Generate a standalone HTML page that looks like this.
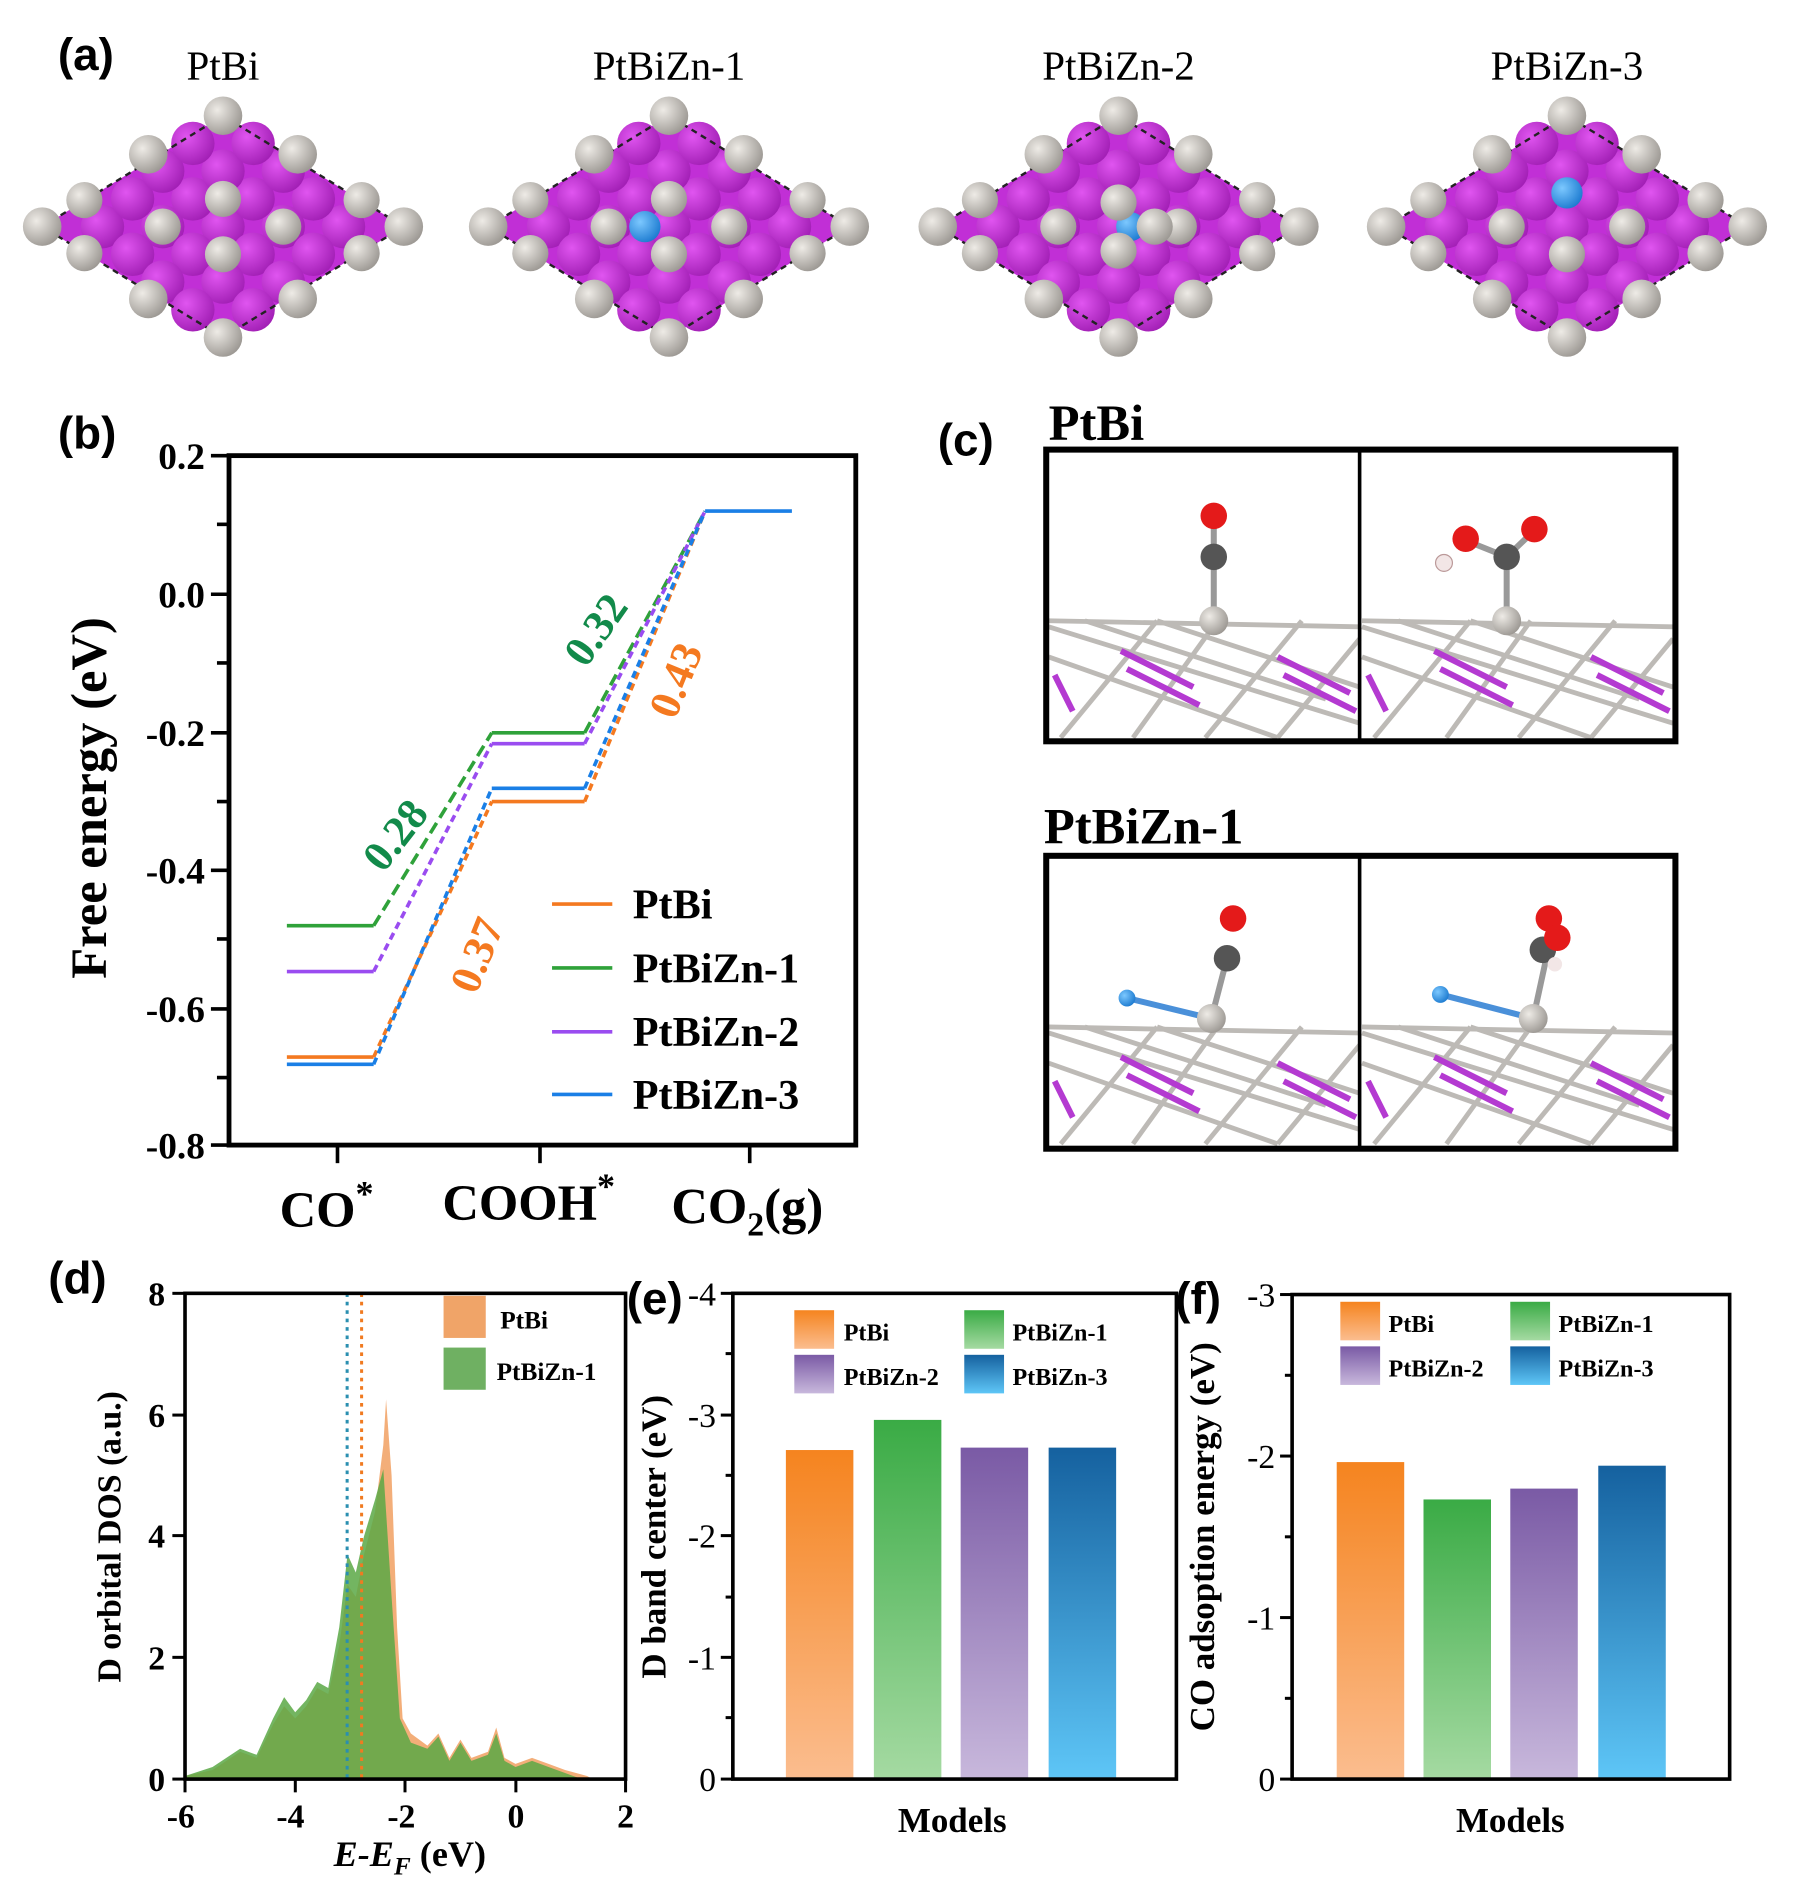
<!DOCTYPE html>
<html><head><meta charset="utf-8"><style>html,body{margin:0;padding:0;background:#fff}svg{display:block}</style></head>
<body>
<svg width="1808" height="1900" viewBox="0 0 1500 1576.3" xmlns="http://www.w3.org/2000/svg" font-family="Liberation Serif, serif">
<defs>
<linearGradient id="go" x1="0" y1="0" x2="0" y2="1"><stop offset="0" stop-color="#f5841f"/><stop offset="1" stop-color="#fbbd8f"/></linearGradient>
<linearGradient id="gg" x1="0" y1="0" x2="0" y2="1"><stop offset="0" stop-color="#3aab45"/><stop offset="1" stop-color="#a5daa2"/></linearGradient>
<linearGradient id="gp" x1="0" y1="0" x2="0" y2="1"><stop offset="0" stop-color="#7a5aa5"/><stop offset="1" stop-color="#c8b8dc"/></linearGradient>
<linearGradient id="gb" x1="0" y1="0" x2="0" y2="1"><stop offset="0" stop-color="#15619f"/><stop offset="1" stop-color="#5ec6f7"/></linearGradient>
<radialGradient id="sg" cx="0.35" cy="0.35" r="0.7"><stop offset="0" stop-color="#eeebe6"/><stop offset="1" stop-color="#9c9893"/></radialGradient>
<radialGradient id="sm" cx="0.35" cy="0.35" r="0.7"><stop offset="0" stop-color="#e055f0"/><stop offset="1" stop-color="#a21fb5"/></radialGradient>
<radialGradient id="sb" cx="0.35" cy="0.35" r="0.7"><stop offset="0" stop-color="#7cc8ff"/><stop offset="1" stop-color="#1d7bd0"/></radialGradient>
<g id="cell">
<polygon points="-150,0 0,-92 150,0 0,92" fill="#c12fd6"/>
<g fill="url(#sm)">
<circle cx="-100" cy="0" r="18"/><circle cx="-50" cy="0" r="18"/><circle cx="50" cy="0" r="18"/><circle cx="100" cy="0" r="18"/><circle cx="0" cy="0" r="18"/>
<circle cx="-75" cy="-23" r="18"/><circle cx="-25" cy="-23" r="18"/><circle cx="25" cy="-23" r="18"/><circle cx="75" cy="-23" r="18"/>
<circle cx="-75" cy="23" r="18"/><circle cx="-25" cy="23" r="18"/><circle cx="25" cy="23" r="18"/><circle cx="75" cy="23" r="18"/>
<circle cx="-50" cy="-46" r="18"/><circle cx="0" cy="-46" r="18"/><circle cx="50" cy="-46" r="18"/>
<circle cx="-50" cy="46" r="18"/><circle cx="0" cy="46" r="18"/><circle cx="50" cy="46" r="18"/>
<circle cx="-25" cy="-69" r="18"/><circle cx="25" cy="-69" r="18"/><circle cx="-25" cy="69" r="18"/><circle cx="25" cy="69" r="18"/>
</g>
<polygon points="-150,0 0,-92 150,0 0,92" fill="none" stroke="#222" stroke-width="2" stroke-dasharray="5,4"/>
<g fill="url(#sg)">
<circle cx="0" cy="-92" r="16"/><circle cx="0" cy="92" r="16"/><circle cx="-150" cy="0" r="16"/><circle cx="150" cy="0" r="16"/>
<circle cx="-62" cy="-60" r="16"/><circle cx="62" cy="-60" r="16"/><circle cx="-62" cy="60" r="16"/><circle cx="62" cy="60" r="16"/>
<circle cx="-115" cy="-22" r="15"/><circle cx="115" cy="-22" r="15"/><circle cx="-115" cy="22" r="15"/><circle cx="115" cy="22" r="15"/>
</g>
</g>
</defs>

<!-- panel a -->
<text x="48" y="58" font-family="Liberation Sans, sans-serif" font-weight="bold" font-size="38">(a)</text>
<g font-size="34" text-anchor="middle">
<text x="185" y="66">PtBi</text><text x="555" y="66">PtBiZn-1</text><text x="928" y="66">PtBiZn-2</text><text x="1300" y="66">PtBiZn-3</text>
</g>
<g transform="translate(185,188)"><use href="#cell"/><g fill="url(#sg)"><circle cx="0" cy="-23" r="15"/><circle cx="-50" cy="0" r="15"/><circle cx="50" cy="0" r="15"/><circle cx="0" cy="23" r="15"/></g></g>
<g transform="translate(555,188)"><use href="#cell"/><g fill="url(#sg)"><circle cx="0" cy="-23" r="15"/><circle cx="-50" cy="0" r="15"/><circle cx="50" cy="0" r="15"/><circle cx="0" cy="23" r="15"/></g><circle cx="-20" cy="0" r="13" fill="url(#sb)"/></g>
<g transform="translate(928,188)"><use href="#cell"/><g fill="url(#sg)"><circle cx="-50" cy="0" r="15"/><circle cx="50" cy="0" r="15"/></g><circle cx="10" cy="0" r="12" fill="url(#sb)"/><g fill="url(#sg)"><circle cx="0" cy="-20" r="15"/><circle cx="30" cy="0" r="15"/><circle cx="0" cy="20" r="15"/></g></g>
<g transform="translate(1300,188)"><use href="#cell"/><g fill="url(#sg)"><circle cx="-50" cy="0" r="15"/><circle cx="50" cy="0" r="15"/><circle cx="0" cy="23" r="15"/></g><circle cx="0" cy="-28" r="13" fill="url(#sb)"/></g>

<!-- panel b -->
<text x="48" y="372" font-family="Liberation Sans, sans-serif" font-weight="bold" font-size="38">(b)</text>
<rect x="190" y="378" width="520" height="572" fill="none" stroke="#000" stroke-width="4"/>
<g stroke="#000" stroke-width="3">
<line x1="190" y1="435" x2="180" y2="435"/><line x1="190" y1="550" x2="180" y2="550"/><line x1="190" y1="665" x2="180" y2="665"/><line x1="190" y1="779" x2="180" y2="779"/><line x1="190" y1="894" x2="180" y2="894"/>
<line x1="190" y1="378" x2="175" y2="378"/><line x1="190" y1="493" x2="175" y2="493"/><line x1="190" y1="608" x2="175" y2="608"/><line x1="190" y1="722" x2="175" y2="722"/><line x1="190" y1="837" x2="175" y2="837"/><line x1="190" y1="950" x2="175" y2="950"/>
<line x1="280" y1="950" x2="280" y2="965"/><line x1="448" y1="950" x2="448" y2="965"/><line x1="622" y1="950" x2="622" y2="965"/>
</g>
<g font-weight="bold" font-size="31" text-anchor="end">
<text x="170" y="389">0.2</text><text x="170" y="504">0.0</text><text x="170" y="619">-0.2</text><text x="170" y="733">-0.4</text><text x="170" y="848">-0.6</text><text x="170" y="961">-0.8</text>
</g>
<text transform="translate(88,662) rotate(-90)" text-anchor="middle" font-weight="bold" font-size="42">Free energy (eV)</text>
<g font-weight="bold" font-size="42">
<text x="232" y="1018">CO<tspan font-size="30" dy="-18">*</tspan></text>
<text x="367" y="1012">COOH<tspan font-size="30" dy="-18">*</tspan></text>
<text x="557" y="1015">CO<tspan font-size="28" dy="10">2</tspan><tspan dy="-10">(g)</tspan></text>
</g>
<g stroke-width="3" fill="none">
<g stroke="#f47920"><line x1="238" y1="877" x2="310" y2="877"/><line x1="408" y1="665" x2="485" y2="665"/><line x1="310" y1="877" x2="408" y2="665" stroke-dasharray="6,4"/><line x1="485" y1="665" x2="585" y2="424" stroke-dasharray="6,4"/></g>
<g stroke="#2fa23a"><line x1="238" y1="768" x2="310" y2="768"/><line x1="408" y1="608" x2="485" y2="608"/><line x1="310" y1="768" x2="408" y2="608" stroke-dasharray="10,5"/><line x1="485" y1="608" x2="585" y2="424" stroke-dasharray="10,5"/></g>
<g stroke="#9a4cf0"><line x1="238" y1="806" x2="310" y2="806"/><line x1="408" y1="617" x2="485" y2="617"/><line x1="310" y1="806" x2="408" y2="617" stroke-dasharray="6,4"/><line x1="485" y1="617" x2="585" y2="424" stroke-dasharray="6,4"/></g>
<g stroke="#1a7fe6"><line x1="238" y1="883" x2="310" y2="883"/><line x1="408" y1="654" x2="485" y2="654"/><line x1="310" y1="883" x2="408" y2="654" stroke-dasharray="6,4"/><line x1="485" y1="654" x2="585" y2="424" stroke-dasharray="6,4"/><line x1="585" y1="424" x2="657" y2="424"/></g>
</g>
<g font-weight="bold" font-size="36">
<text transform="translate(318,725) rotate(-52)" fill="#128a4a">0.28</text>
<text transform="translate(395,826) rotate(-68)" fill="#f47920">0.37</text>
<text transform="translate(486,555) rotate(-55)" fill="#128a4a">0.32</text>
<text transform="translate(560,598) rotate(-68)" fill="#f47920">0.43</text>
</g>
<g stroke-width="3"><line x1="458" y1="750" x2="508" y2="750" stroke="#f47920"/><line x1="458" y1="803" x2="508" y2="803" stroke="#2fa23a"/><line x1="458" y1="856" x2="508" y2="856" stroke="#9a4cf0"/><line x1="458" y1="908" x2="508" y2="908" stroke="#1a7fe6"/></g>
<g font-weight="bold" font-size="35"><text x="525" y="762">PtBi</text><text x="525" y="815">PtBiZn-1</text><text x="525" y="868">PtBiZn-2</text><text x="525" y="920">PtBiZn-3</text></g>

<!-- panel c -->
<text x="778" y="378" font-family="Liberation Sans, sans-serif" font-weight="bold" font-size="38">(c)</text>
<text x="870" y="365" font-weight="bold" font-size="42">PtBi</text>
<text x="866" y="700" font-weight="bold" font-size="42">PtBiZn-1</text>
<g id="slab1">
<g stroke="#bdbab6" stroke-width="4">
<line x1="870" y1="520" x2="1128" y2="600"/><line x1="870" y1="545" x2="1060" y2="612"/><line x1="900" y1="515" x2="1100" y2="580"/><line x1="960" y1="515" x2="1128" y2="570"/>
<line x1="880" y1="612" x2="960" y2="515"/><line x1="940" y1="612" x2="1010" y2="515"/><line x1="1000" y1="612" x2="1080" y2="515"/><line x1="1060" y1="612" x2="1128" y2="530"/>
<line x1="870" y1="515" x2="1128" y2="520"/>
</g>
<g stroke="#b43ad1" stroke-width="5"><line x1="930" y1="540" x2="990" y2="570"/><line x1="935" y1="555" x2="995" y2="585"/><line x1="1060" y1="545" x2="1120" y2="575"/><line x1="1065" y1="560" x2="1125" y2="590"/><line x1="875" y1="560" x2="890" y2="590"/></g>
</g>
<use href="#slab1" x="260"/>
<use href="#slab1" y="337"/>
<use href="#slab1" x="260" y="337"/>
<rect x="868" y="373" width="522" height="242" fill="none" stroke="#000" stroke-width="5"/>
<line x1="1128" y1="373" x2="1128" y2="615" stroke="#000" stroke-width="3"/>
<rect x="868" y="710" width="522" height="243" fill="none" stroke="#000" stroke-width="5"/>
<line x1="1128" y1="710" x2="1128" y2="953" stroke="#000" stroke-width="3"/>
<g stroke="#999" stroke-width="5"><line x1="1007" y1="430" x2="1007" y2="515"/><line x1="1250" y1="465" x2="1250" y2="515"/><line x1="1215" y1="448" x2="1250" y2="462"/><line x1="1250" y1="462" x2="1273" y2="440"/><line x1="1018" y1="795" x2="1005" y2="845"/><line x1="1285" y1="785" x2="1272" y2="845"/><line x1="935" y1="828" x2="1005" y2="845" stroke="#4a90d9"/><line x1="1195" y1="825" x2="1272" y2="845" stroke="#4a90d9"/></g>
<circle cx="1007" cy="428" r="11" fill="#e41a1a"/><circle cx="1007" cy="462" r="11" fill="#555"/><circle cx="1007" cy="515" r="12" fill="url(#sg)"/>
<circle cx="1216" cy="447" r="11" fill="#e41a1a"/><circle cx="1273" cy="439" r="11" fill="#e41a1a"/><circle cx="1250" cy="462" r="11" fill="#555"/><circle cx="1198" cy="467" r="7" fill="#f2e6e6" stroke="#b99" /><circle cx="1250" cy="515" r="12" fill="url(#sg)"/>
<circle cx="1023" cy="762" r="11" fill="#e41a1a"/><circle cx="1018" cy="795" r="11" fill="#555"/><circle cx="1005" cy="845" r="12" fill="url(#sg)"/><circle cx="935" cy="828" r="7" fill="url(#sb)"/>
<circle cx="1285" cy="762" r="11" fill="#e41a1a"/><circle cx="1280" cy="788" r="11" fill="#555"/><circle cx="1292" cy="778" r="11" fill="#e41a1a"/><circle cx="1290" cy="800" r="6" fill="#f2e6e6"/><circle cx="1272" cy="845" r="12" fill="url(#sg)"/><circle cx="1195" cy="825" r="7" fill="url(#sb)"/>

<!-- panel d -->
<text x="40" y="1073" font-family="Liberation Sans, sans-serif" font-weight="bold" font-size="38">(d)</text>
<g transform="translate(153.5,1476) scale(45.7,-50.4)">
<polygon fill="#f2a56a" opacity="0.9" points="0,0 0,0.05 0.5,0.15 1,0.45 1.3,0.35 1.6,0.9 1.8,1.2 2,1.0 2.2,1.2 2.4,1.5 2.6,1.4 2.8,2.2 2.95,3.2 3.1,3.0 3.25,3.7 3.45,4.4 3.6,5.5 3.65,6.25 3.75,5.0 3.85,2.5 3.95,1.0 4.1,0.75 4.4,0.55 4.6,0.75 4.8,0.35 5,0.65 5.2,0.35 5.5,0.45 5.65,0.85 5.8,0.35 6,0.25 6.3,0.35 6.6,0.25 6.9,0.15 7.3,0.05 7.4,0"/>
<polygon fill="#5aa845" opacity="0.85" points="0,0 0,0.05 0.5,0.2 1,0.5 1.3,0.4 1.6,1.0 1.8,1.35 2,1.1 2.2,1.3 2.4,1.6 2.6,1.5 2.8,2.5 2.95,3.7 3.1,3.4 3.25,4.0 3.45,4.6 3.6,5.1 3.75,3.0 3.9,1.0 4.1,0.6 4.4,0.5 4.6,0.7 4.8,0.3 5,0.6 5.2,0.3 5.5,0.4 5.65,0.75 5.8,0.3 6,0.2 6.3,0.3 6.6,0.2 6.9,0.1 7.2,0"/>
</g>
<line x1="288" y1="1073" x2="288" y2="1476" stroke="#2a8fb0" stroke-width="2.5" stroke-dasharray="3,4"/>
<line x1="300" y1="1073" x2="300" y2="1476" stroke="#f07a20" stroke-width="2.5" stroke-dasharray="3,4"/>
<rect x="153.5" y="1073" width="365.5" height="403" fill="none" stroke="#000" stroke-width="3"/>
<g stroke="#000" stroke-width="2.5"><line x1="153" y1="1073" x2="143" y2="1073"/><line x1="153" y1="1174" x2="143" y2="1174"/><line x1="153" y1="1274" x2="143" y2="1274"/><line x1="153" y1="1375" x2="143" y2="1375"/><line x1="153" y1="1476" x2="143" y2="1476"/>
<line x1="153.5" y1="1476" x2="153.5" y2="1487"/><line x1="245" y1="1476" x2="245" y2="1487"/><line x1="336" y1="1476" x2="336" y2="1487"/><line x1="428" y1="1476" x2="428" y2="1487"/><line x1="519" y1="1476" x2="519" y2="1487"/></g>
<g font-size="28" font-weight="bold" text-anchor="end"><text x="137" y="1083">8</text><text x="137" y="1184">6</text><text x="137" y="1284">4</text><text x="137" y="1385">2</text><text x="137" y="1486">0</text></g>
<g font-size="28" font-weight="bold" text-anchor="middle"><text x="150" y="1516">-6</text><text x="241" y="1516">-4</text><text x="333" y="1516">-2</text><text x="428" y="1516">0</text><text x="519" y="1516">2</text></g>
<text x="340" y="1548" text-anchor="middle" font-weight="bold" font-size="30"><tspan font-style="italic">E-E<tspan font-size="21" dy="7">F</tspan></tspan><tspan dy="-7"> (eV)</tspan></text>
<text transform="translate(100,1275) rotate(-90)" text-anchor="middle" font-weight="bold" font-size="28">D orbital DOS (a.u.)</text>
<rect x="368" y="1075" width="35" height="35" fill="#f0a468"/><rect x="368" y="1118" width="35" height="35" fill="#6fb062"/>
<g font-weight="bold" font-size="21"><text x="415" y="1102">PtBi</text><text x="412" y="1145">PtBiZn-1</text></g>

<!-- panel e -->
<text x="520" y="1090" font-family="Liberation Sans, sans-serif" font-weight="bold" font-size="38">(e)</text>
<rect x="652" y="1203" width="56" height="273" fill="url(#go)"/>
<rect x="725" y="1178" width="56" height="298" fill="url(#gg)"/>
<rect x="797" y="1201" width="56" height="275" fill="url(#gp)"/>
<rect x="870" y="1201" width="56" height="275" fill="url(#gb)"/>
<rect x="608" y="1073" width="368" height="403" fill="none" stroke="#000" stroke-width="3"/>
<g stroke="#000" stroke-width="2.5"><line x1="608" y1="1073" x2="598" y2="1073"/><line x1="608" y1="1174" x2="598" y2="1174"/><line x1="608" y1="1274" x2="598" y2="1274"/><line x1="608" y1="1375" x2="598" y2="1375"/><line x1="608" y1="1476" x2="598" y2="1476"/>
<line x1="608" y1="1123" x2="602" y2="1123"/><line x1="608" y1="1224" x2="602" y2="1224"/><line x1="608" y1="1325" x2="602" y2="1325"/><line x1="608" y1="1425" x2="602" y2="1425"/></g>
<g font-size="28" text-anchor="end"><text x="594" y="1083">-4</text><text x="594" y="1184">-3</text><text x="594" y="1284">-2</text><text x="594" y="1385">-1</text><text x="594" y="1486">0</text></g>
<text transform="translate(552,1275) rotate(-90)" text-anchor="middle" font-weight="bold" font-size="29">D band center (eV)</text>
<text x="790" y="1520" text-anchor="middle" font-weight="bold" font-size="29">Models</text>
<rect x="659" y="1087" width="33" height="32" fill="url(#go)"/><rect x="800" y="1087" width="33" height="32" fill="url(#gg)"/>
<rect x="659" y="1124" width="33" height="32" fill="url(#gp)"/><rect x="800" y="1124" width="33" height="32" fill="url(#gb)"/>
<g font-weight="bold" font-size="20"><text x="700" y="1112">PtBi</text><text x="840" y="1112">PtBiZn-1</text><text x="700" y="1149">PtBiZn-2</text><text x="840" y="1149">PtBiZn-3</text></g>

<!-- panel f -->
<text x="975" y="1090" font-family="Liberation Sans, sans-serif" font-weight="bold" font-size="38">(f)</text>
<rect x="1109" y="1213" width="56" height="263" fill="url(#go)"/>
<rect x="1181" y="1244" width="56" height="232" fill="url(#gg)"/>
<rect x="1253" y="1235" width="56" height="241" fill="url(#gp)"/>
<rect x="1326" y="1216" width="56" height="260" fill="url(#gb)"/>
<rect x="1072" y="1074" width="363" height="402" fill="none" stroke="#000" stroke-width="3"/>
<g stroke="#000" stroke-width="2.5"><line x1="1072" y1="1074" x2="1062" y2="1074"/><line x1="1072" y1="1208" x2="1062" y2="1208"/><line x1="1072" y1="1342" x2="1062" y2="1342"/><line x1="1072" y1="1476" x2="1062" y2="1476"/>
<line x1="1072" y1="1141" x2="1066" y2="1141"/><line x1="1072" y1="1275" x2="1066" y2="1275"/><line x1="1072" y1="1409" x2="1066" y2="1409"/></g>
<g font-size="28" text-anchor="end"><text x="1058" y="1084">-3</text><text x="1058" y="1218">-2</text><text x="1058" y="1352">-1</text><text x="1058" y="1486">0</text></g>
<text transform="translate(1007,1275) rotate(-90)" text-anchor="middle" font-weight="bold" font-size="29">CO adsoption energy (eV)</text>
<text x="1253" y="1520" text-anchor="middle" font-weight="bold" font-size="29">Models</text>
<rect x="1112" y="1080" width="33" height="32" fill="url(#go)"/><rect x="1253" y="1080" width="33" height="32" fill="url(#gg)"/>
<rect x="1112" y="1117" width="33" height="32" fill="url(#gp)"/><rect x="1253" y="1117" width="33" height="32" fill="url(#gb)"/>
<g font-weight="bold" font-size="20"><text x="1152" y="1105">PtBi</text><text x="1293" y="1105">PtBiZn-1</text><text x="1152" y="1142">PtBiZn-2</text><text x="1293" y="1142">PtBiZn-3</text></g>
</svg>
</body></html>
